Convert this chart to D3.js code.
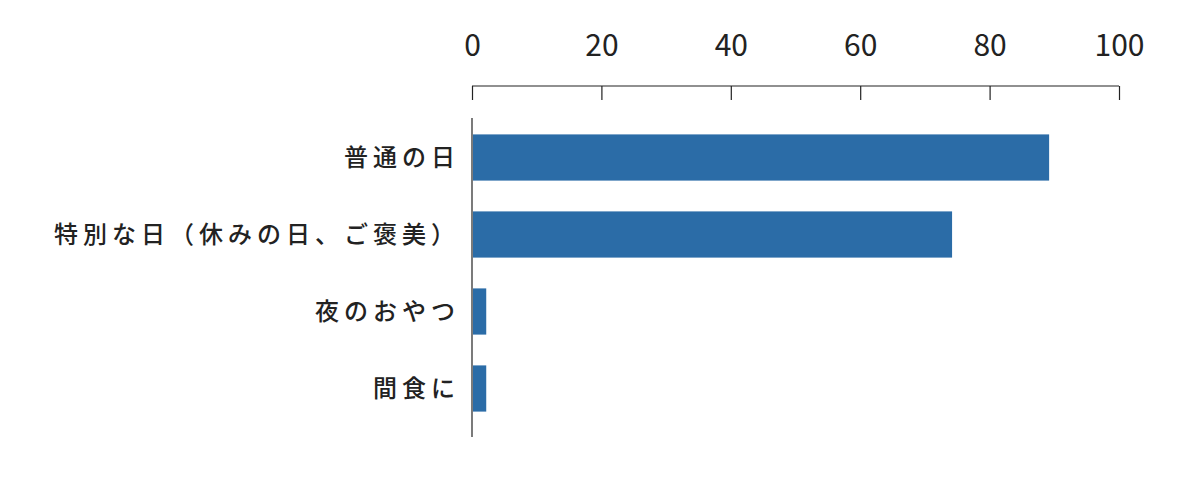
<!DOCTYPE html>
<html><head><meta charset="utf-8">
<script src="https://cdn.jsdelivr.net/npm/d3@7"></script>
<style>body{margin:0;background:#fff}</style></head>
<body><svg id="c" width="1200" height="477"></svg>
<script>
const categories = ["普通の日","特別な日（休みの日、ご褒美）","夜のおやつ","間食に"];
const values = [89.2, 74.2, 2.2, 2.2];
const ticks = [0,20,40,60,80,100];

const svg = d3.select("#c");
const x = d3.scaleLinear().domain([0,100]).range([472,1119]);
const y = d3.scaleBand().domain(categories).range([119,427]).paddingInner(0.4).paddingOuter(0.2);
const font = "'Noto Sans CJK JP', sans-serif";

const ax = svg.append("g").attr("transform","translate(0,86)")
  .call(d3.axisTop(x).tickValues(ticks).tickSize(-14).tickPadding(30).tickSizeOuter(0));
ax.select(".domain").attr("stroke","#222").attr("stroke-width",1.2).attr("d","M472,0H1119");
ax.selectAll(".tick line").attr("stroke","#222").attr("stroke-width",1.2);
ax.selectAll("text").attr("font-family",font).attr("font-size",30).attr("fill","#222");

svg.append("line").attr("x1",472).attr("x2",472).attr("y1",118).attr("y2",437)
  .attr("stroke","#222").attr("stroke-width",1.2);

svg.selectAll("rect").data(values).join("rect")
  .attr("x",x(0)+1).attr("y",(d,i)=>y(categories[i]))
  .attr("width",d=>x(d)-x(0)-1).attr("height",y.bandwidth()).attr("fill","#2b6ca7");

svg.selectAll(".lbl").data(categories).join("text")
  .attr("x",460).attr("y",d=>y(d)+y.bandwidth()/2).attr("dy","0.36em")
  .attr("text-anchor","end").attr("font-family",font).attr("font-size",24)
  .attr("font-weight",500).attr("letter-spacing","5px").attr("fill","#222").text(d=>d);
</script></body></html>
